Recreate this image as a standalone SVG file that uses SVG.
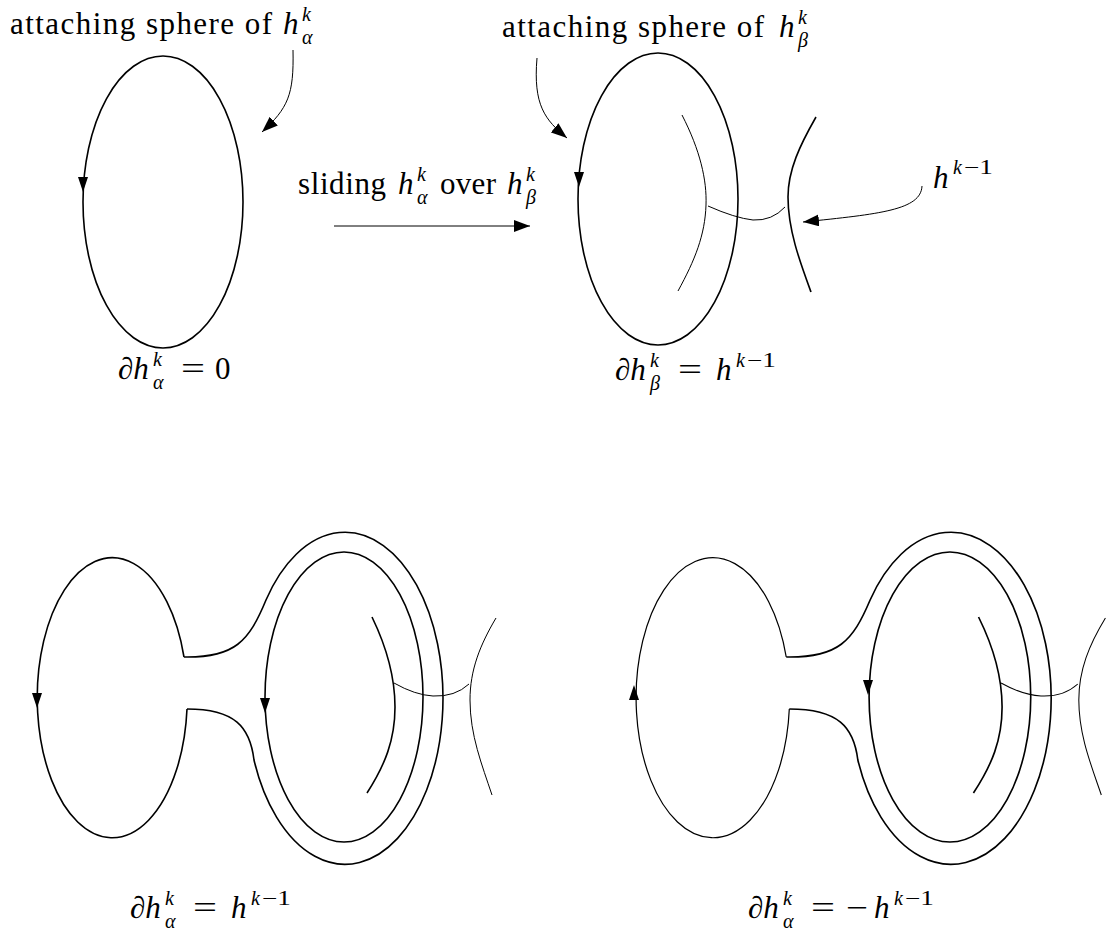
<svg xmlns="http://www.w3.org/2000/svg" width="1109" height="935" viewBox="0 0 1109 935">
<style>
.k{fill:none;stroke:#000;stroke-width:1.6}
.n{fill:none;stroke:#000;stroke-width:1}
.m{fill:none;stroke:#000;stroke-width:1.2}
.p{fill:none;stroke:#000;stroke-width:1;marker-end:url(#arr)}
text{font-family:"Liberation Serif","DejaVu Serif",serif;font-size:31px;fill:#000}
.i{font-style:italic}
.s{font-size:20px}
.r{font-style:normal}
</style>
<defs>
<marker id="arr" markerUnits="userSpaceOnUse" markerWidth="16" markerHeight="12" refX="16" refY="6" orient="auto"><path d="M0,0 L16,6 L0,12 Z" fill="#000"/></marker>
<path id="ah" d="M-5,-15 L5,-15 L0,0 Z" fill="#000"/>
</defs>
<rect width="1109" height="935" fill="#fff"/>

<g id="top-left">
<ellipse class="k" cx="163" cy="202" rx="80" ry="146"/>
<use href="#ah" transform="translate(83,192)"/>
</g>

<g id="top-right">
<ellipse class="k" cx="658" cy="199" rx="80" ry="146"/>
<use href="#ah" transform="translate(579,187)"/>
<path class="n" d="M682,115 C700,150 707,180 706,205 C705,235 695,260 678,291"/>
<path class="k" d="M816,117 C800,145 788,170 788,197 C788,230 800,262 811,292"/>
<path class="n" d="M708,206 Q735,218 753,220 Q772,221 785,207"/>
</g>

<g id="bottom-left">
<path class="k" d="M184,657 A75,140 0 1 0 187,709"/>
<path class="k" d="M184,657 C235,658 249,641 266,600 A98,166 0 1 1 254,760 C250,727 235,709 187,709"/>
<ellipse class="k" cx="344" cy="697" rx="79" ry="145"/>
<path class="k" d="M372,617 C388,650 395,680 395,707 C395,740 385,765 367,793"/>
<path class="n" d="M496,618 C480,645 470,670 470,700 C470,735 482,765 492,795"/>
<path class="n" d="M394,683 Q415,695 433,696 Q455,697 469,684"/>
<use href="#ah" transform="translate(37,708)"/>
<use href="#ah" transform="translate(265,713)"/>
</g>

<g id="bottom-right">
<g transform="matrix(1.023 0 0 1 598 0)">
<path class="m" d="M184,657 A75,140 0 1 0 187,709"/>
<path class="k" d="M184,657 C235,658 249,641 266,600 A98,166 0 1 1 254,760 C250,727 235,709 187,709"/>
<ellipse class="k" cx="344" cy="697" rx="79" ry="145"/>
<path class="k" d="M372,617 C388,650 395,680 395,707 C395,740 385,765 367,793"/>
<path class="n" d="M496,618 C480,645 470,670 470,700 C470,735 482,765 492,795"/>
<path class="n" d="M394,683 Q415,695 433,696 Q455,697 469,684"/>
</g>
<use href="#ah" transform="translate(634,685) rotate(180)"/>
<use href="#ah" transform="translate(868,695)"/>
</g>

<g id="connectors">
<path class="p" d="M293,50 C294,95 288,108 262,132"/>
<path class="p" d="M537,58 C533,105 545,120 567,138"/>
<path class="p" d="M334,226 L530,226"/>
<path class="p" d="M922,186 C921,210 880,214 803,222"/>
</g>

<g id="label-attach-alpha">
<text x="10" y="34" textLength="262" lengthAdjust="spacing">attaching sphere of</text>
<text class="i"><tspan x="283" y="34">h</tspan><tspan class="s" x="302" y="21">k</tspan><tspan class="s" x="302" y="44">α</tspan></text>
</g>

<g id="label-attach-beta">
<text x="502" y="37" textLength="262" lengthAdjust="spacing">attaching sphere of</text>
<text class="i"><tspan x="779" y="37">h</tspan><tspan class="s" x="798" y="24">k</tspan><tspan class="s" x="798" y="47">β</tspan></text>
</g>

<g id="label-sliding">
<text x="298" y="194" textLength="88" lengthAdjust="spacing">sliding</text>
<text class="i"><tspan x="398" y="194">h</tspan><tspan class="s" x="417" y="181">k</tspan><tspan class="s" x="417" y="204">α</tspan></text>
<text x="440" y="194" textLength="56" lengthAdjust="spacing">over</text>
<text class="i"><tspan x="507" y="194">h</tspan><tspan class="s" x="526" y="181">k</tspan><tspan class="s" x="526" y="204">β</tspan></text>
</g>

<g id="label-hk1">
<text class="i"><tspan x="933" y="188">h</tspan><tspan class="s" x="953" y="174">k</tspan></text>
<text class="s" x="964" y="174" textLength="29" lengthAdjust="spacingAndGlyphs">−1</text>
</g>

<g id="label-d-alpha-0">
<text class="i"><tspan x="118" y="379">∂h</tspan><tspan class="s" x="153" y="366">k</tspan><tspan class="s" x="153" y="389">α</tspan></text>
<text x="181" y="379" textLength="24" lengthAdjust="spacingAndGlyphs">=</text>
<text x="215" y="379">0</text>
</g>

<g id="label-d-beta">
<text class="i"><tspan x="615" y="380">∂h</tspan><tspan class="s" x="650" y="367">k</tspan><tspan class="s" x="650" y="390">β</tspan></text>
<text x="678" y="380" textLength="24" lengthAdjust="spacingAndGlyphs">=</text>
<text class="i"><tspan x="716" y="380">h</tspan><tspan class="s" x="736" y="367">k</tspan></text>
<text class="s" x="747" y="367" textLength="29" lengthAdjust="spacingAndGlyphs">−1</text>
</g>

<g id="label-d-alpha-plus">
<text class="i"><tspan x="130" y="918">∂h</tspan><tspan class="s" x="165" y="905">k</tspan><tspan class="s" x="165" y="928">α</tspan></text>
<text x="193" y="918" textLength="24" lengthAdjust="spacingAndGlyphs">=</text>
<text class="i"><tspan x="231" y="918">h</tspan><tspan class="s" x="251" y="905">k</tspan></text>
<text class="s" x="262" y="905" textLength="29" lengthAdjust="spacingAndGlyphs">−1</text>
</g>

<g id="label-d-alpha-minus">
<text class="i"><tspan x="748" y="918">∂h</tspan><tspan class="s" x="783" y="905">k</tspan><tspan class="s" x="783" y="928">α</tspan></text>
<text x="811" y="918" textLength="24" lengthAdjust="spacingAndGlyphs">=</text>
<text x="846" y="918" textLength="22" lengthAdjust="spacingAndGlyphs">−</text>
<text class="i"><tspan x="874" y="918">h</tspan><tspan class="s" x="894" y="905">k</tspan></text>
<text class="s" x="905" y="905" textLength="29" lengthAdjust="spacingAndGlyphs">−1</text>
</g>
</svg>
